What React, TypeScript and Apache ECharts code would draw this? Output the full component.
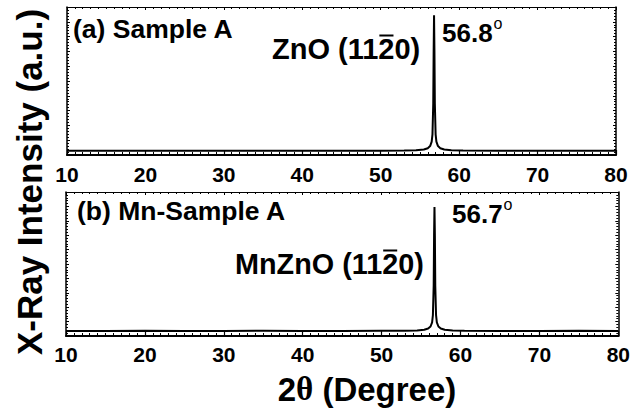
import React, { useEffect, useRef } from "react";
import * as echarts from "echarts";

// ---- data ----
const thetaA = [10, 15, 20, 25, 30, 35, 40, 45, 50, 53, 54.5, 55.5, 56.0, 56.3, 56.5, 56.6, 56.7, 56.75, 56.8, 56.85, 56.9, 57.0, 57.1, 57.3, 57.6, 58.1, 59.0, 60.5, 65, 70, 75, 80];
const intensityA = [2.8, 2.9, 2.8, 2.9, 2.8, 2.9, 2.8, 2.9, 2.9, 3.0, 3.2, 3.7, 4.6, 6.0, 9, 14, 35, 70, 94.5, 70, 35, 14, 9, 6.0, 4.6, 3.7, 3.2, 3.0, 2.9, 2.8, 2.9, 2.8];

const thetaB = [10, 15, 20, 25, 30, 35, 40, 45, 50, 53, 54.5, 55.4, 55.9, 56.2, 56.4, 56.5, 56.6, 56.65, 56.7, 56.75, 56.8, 56.9, 57.0, 57.2, 57.5, 58.0, 59.0, 60.5, 65, 70, 75, 80];
const intensityB = [3.5, 3.5, 3.6, 3.5, 3.5, 3.6, 3.5, 3.5, 3.6, 3.6, 3.8, 4.3, 5.2, 6.6, 9.5, 14.5, 35, 70, 89.6, 70, 35, 14.5, 9.5, 6.6, 5.2, 4.3, 3.8, 3.6, 3.5, 3.5, 3.6, 3.5];

const xMin = 10;
const xMax = 80;
const xStep = 10;
const panelLabels = ["(a) Sample A", "(b) Mn-Sample A"];
const phasePrefix = ["ZnO (11", "MnZnO (11"];
const phaseBarred = "2";
const phaseSuffix = "0)";
const peakLabels = ["56.8", "56.7"];
const xName = ["2", "\u03b8", " (Degree)"];
const yName = "X-Ray Intensity (a.u.)";

const FONT = '"Liberation Sans", Arial, sans-serif';

function measure(text: string, size: number) {
  const c = document.createElement("canvas").getContext("2d")!;
  c.font = `bold ${size}px "Liberation Sans"`;
  return c.measureText(text).width;
}

export default function App() {
  const ref = useRef<HTMLDivElement>(null);
  useEffect(() => {
    if (!ref.current) return;
    const chart = echarts.init(ref.current, null, { renderer: "svg" });

    const grids = [
      { left: 67, top: 7, width: 549, height: 148 },
      { left: 66, top: 192, width: 554, height: 144 },
    ];
    const labelMargin = [9, 8];

    const xAxes: any[] = [];
    const yAxes: any[] = [];
    grids.forEach((_, i) => {
      xAxes.push({
        type: "value",
        gridIndex: i,
        min: xMin,
        max: xMax,
        interval: xStep,
        position: "bottom",
        axisLine: { show: true, onZero: false, lineStyle: { color: "#000", width: 2 } },
        axisTick: { show: true, inside: true, length: 5, lineStyle: { color: "#000", width: 1.2 } },
        minorTick: { show: true, splitNumber: 10, length: 3, lineStyle: { color: "#000", width: 1 } },
        splitLine: { show: false },
        axisLabel: { show: true, color: "#000", fontSize: 21, fontWeight: "bold", fontFamily: FONT, margin: labelMargin[i] },
      });
      xAxes.push({
        type: "value",
        gridIndex: i,
        min: xMin,
        max: xMax,
        interval: xStep,
        position: "top",
        axisLine: { show: true, onZero: false, lineStyle: { color: "#000", width: 1.2 } },
        axisTick: { show: true, inside: true, length: 3, lineStyle: { color: "#000", width: 1 } },
        minorTick: { show: true, splitNumber: 10, length: 2, lineStyle: { color: "#000", width: 1 } },
        splitLine: { show: false },
        axisLabel: { show: false },
      });
      ["left", "right"].forEach((pos) => {
        yAxes.push({
          type: "value",
          gridIndex: i,
          min: 0,
          max: 100,
          interval: 10,
          position: pos,
          axisLine: { show: true, onZero: false, lineStyle: { color: "#000", width: 1.5 } },
          axisTick: { show: true, inside: true, length: 3, lineStyle: { color: "#000", width: 1 } },
          minorTick: { show: true, splitNumber: 5, length: 2, lineStyle: { color: "#000", width: 1 } },
          splitLine: { show: false },
          axisLabel: { show: false },
        });
      });
    });

    const series = [
      { theta: thetaA, inten: intensityA },
      { theta: thetaB, inten: intensityB },
    ].map((s, i) => ({
      type: "line",
      xAxisIndex: i * 2,
      yAxisIndex: i * 2,
      data: s.theta.map((t, k) => [t, s.inten[k]]),
      showSymbol: false,
      symbol: "none",
      lineStyle: { color: "#000", width: 2 },
      silent: true,
    }));

    // text placements
    const panelPos = [
      { x: 73, y: 29 },
      { x: 77, y: 211 },
    ];
    const phasePos = [
      { x: 272, y: 49, size: 29 },
      { x: 235, y: 264, size: 28.8 },
    ];
    const peakPos = [
      { x: 442, y: 33 },
      { x: 452, y: 214 },
    ];
    const peakSize = 26;

    const graphic: any[] = [];
    // y axis name
    graphic.push({
      type: "text",
      x: 29,
      y: 182,
      rotation: Math.PI / 2,
      style: {
        text: yName,
        fontSize: 35,
        fontWeight: "bold",
        fontFamily: FONT,
        fill: "#000",
        align: "center",
        verticalAlign: "middle",
      },
    });
    // x axis name
    graphic.push({
      type: "text",
      x: 367,
      y: 389,
      style: {
        text: `{a|${xName[0]}}{t|${xName[1]}}{a|${xName[2]}}`,
        align: "center",
        verticalAlign: "middle",
        fill: "#000",
        rich: {
          a: { fontSize: 33, fontWeight: "bold", fontFamily: FONT, fill: "#000" },
          t: { fontSize: 33, fontWeight: "bold", fontFamily: '"Liberation Serif", serif', fill: "#000" },
        },
      },
    });

    panelLabels.forEach((txt, i) => {
      graphic.push({
        type: "text",
        x: panelPos[i].x,
        y: panelPos[i].y,
        style: { text: txt, fontSize: 26.5, fontWeight: "bold", fontFamily: FONT, fill: "#000", align: "left", verticalAlign: "middle" },
      });
      // phase label with overlined index
      const p = phasePos[i];
      const wPre = measure(phasePrefix[i], p.size);
      const wBar = measure(phaseBarred, p.size);
      const common = { fontSize: p.size, fontWeight: "bold", fontFamily: FONT, fill: "#000", align: "left", verticalAlign: "middle" };
      graphic.push({ type: "text", x: p.x, y: p.y, style: { ...common, text: phasePrefix[i] } });
      graphic.push({ type: "text", x: p.x + wPre, y: p.y, style: { ...common, text: phaseBarred } });
      graphic.push({ type: "text", x: p.x + wPre + wBar, y: p.y, style: { ...common, text: phaseSuffix } });
      graphic.push({
        type: "rect",
        shape: { x: p.x + wPre + 1, y: p.y - 14.5, width: wBar - 2, height: 2 },
        style: { fill: "#000" },
      });
      // peak position label
      const q = peakPos[i];
      const wPeak = measure(peakLabels[i], peakSize);
      graphic.push({
        type: "text",
        x: q.x,
        y: q.y,
        style: { text: peakLabels[i], fontSize: peakSize, fontWeight: "bold", fontFamily: FONT, fill: "#000", align: "left", verticalAlign: "middle" },
      });
      graphic.push({
        type: "text",
        x: q.x + wPeak + 1,
        y: q.y - 10,
        style: { text: "o", fontSize: 16, fontWeight: "normal", fontFamily: FONT, fill: "#000", align: "left", verticalAlign: "middle" },
      });
    });

    chart.setOption({
      animation: false,
      backgroundColor: "#fff",
      grid: grids,
      xAxis: xAxes,
      yAxis: yAxes,
      series,
      graphic,
    });
    return () => chart.dispose();
  }, []);

  return (
    <div
      ref={ref}
      style={{ position: "absolute", left: 0, top: 0, width: 633, height: 411, background: "#fff" }}
    />
  );
}
